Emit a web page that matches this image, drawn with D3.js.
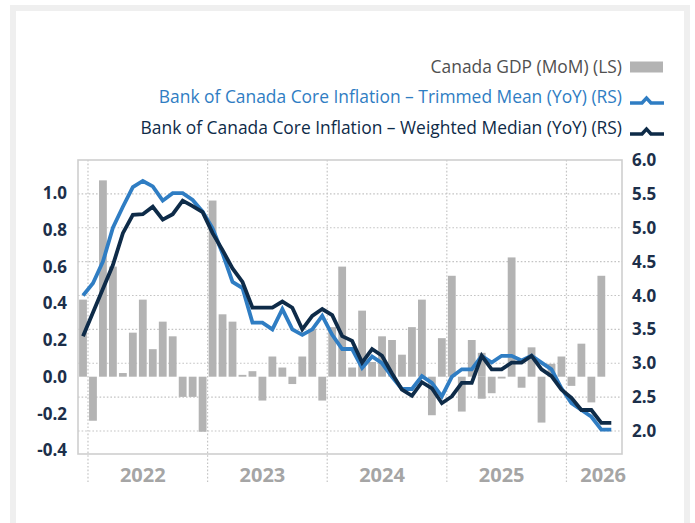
<!DOCTYPE html>
<html><head><meta charset="utf-8">
<script src="https://cdn.jsdelivr.net/npm/d3@7/dist/d3.min.js"></script>
<style>
html,body{margin:0;padding:0;background:#fff;}
svg{display:block;font-family:"Open Sans",sans-serif;}
</style></head><body>
<svg id="chart" width="695" height="523"></svg>
<script>
// ---------------- data ----------------
const months = [
 "2021-12",
 "2022-01","2022-02","2022-03","2022-04","2022-05","2022-06","2022-07","2022-08","2022-09","2022-10","2022-11","2022-12",
 "2023-01","2023-02","2023-03","2023-04","2023-05","2023-06","2023-07","2023-08","2023-09","2023-10","2023-11","2023-12",
 "2024-01","2024-02","2024-03","2024-04","2024-05","2024-06","2024-07","2024-08","2024-09","2024-10","2024-11","2024-12",
 "2025-01","2025-02","2025-03","2025-04","2025-05","2025-06","2025-07","2025-08","2025-09","2025-10","2025-11","2025-12",
 "2026-01","2026-02","2026-03","2026-04","2026-05"
];
// Canada GDP MoM (%), Dec 2021 - Apr 2026 (left scale)
const gdp = [
 0.42,
 -0.24, 1.07, 0.60, 0.02, 0.24, 0.42, 0.15, 0.30, 0.22, -0.11, -0.11, -0.30,
 0.96, 0.34, 0.30, 0.01, 0.03, -0.13, 0.11, 0.05, -0.04, 0.11, 0.26, -0.13,
 0.27, 0.60, 0.05, 0.36, 0.08, 0.22, 0.20, 0.12, 0.27, 0.42, -0.21, 0.21,
 0.55, -0.19, 0.20, 0.13, -0.09, -0.01, 0.65, -0.06, 0.16, -0.25, 0.07, 0.11,
 -0.05, 0.18, -0.14, 0.55
];
// second (negative) bar drawn in the same month
const gdpExtraMonths = ["2025-04"];
const gdpExtraValues = [-0.12];
// BoC core inflation, YoY (%), Dec 2021 - May 2026 (right scale)
const trimmedMean = [
 4.00,
 4.18, 4.50, 5.00, 5.31, 5.60, 5.69, 5.61, 5.40, 5.51, 5.51, 5.41, 5.24,
 4.99, 4.62, 4.20, 4.11, 3.60, 3.60, 3.50, 3.80, 3.50, 3.42, 3.50, 3.70,
 3.42, 3.21, 3.21, 2.93, 3.10, 3.00, 2.80, 2.62, 2.62, 2.81, 2.71, 2.51,
 2.80, 2.91, 2.91, 3.11, 3.01, 3.11, 3.11, 3.04, 3.11, 3.01, 2.91, 2.63,
 2.41, 2.31, 2.21, 2.02, 2.02
];
const weightedMedian = [
 3.40,
 3.75, 4.10, 4.45, 4.92, 5.19, 5.20, 5.31, 5.12, 5.20, 5.40, 5.32, 5.23,
 4.92, 4.67, 4.40, 4.20, 3.82, 3.82, 3.82, 3.91, 3.82, 3.50, 3.70, 3.80,
 3.71, 3.40, 3.33, 3.01, 3.21, 3.11, 2.85, 2.61, 2.52, 2.72, 2.63, 2.41,
 2.51, 2.71, 2.71, 3.11, 2.91, 2.91, 3.01, 3.01, 3.11, 2.91, 2.81, 2.61,
 2.49, 2.31, 2.31, 2.12, 2.12
];
const leftTicks = [-0.4, -0.2, 0.0, 0.2, 0.4, 0.6, 0.8, 1.0];
const rightTicks = [2.0, 2.5, 3.0, 3.5, 4.0, 4.5, 5.0, 5.5, 6.0];
const yearLabels = ["2022", "2023", "2024", "2025", "2026"];
const legendLabels = [
 "Canada GDP (MoM) (LS)",
 "Bank of Canada Core Inflation \u2013 Trimmed Mean (YoY) (RS)",
 "Bank of Canada Core Inflation \u2013 Weighted Median (YoY) (RS)"
];

// ---------------- layout ----------------
const C = {bar:"#b3b3b3", blue:"#2f7dc3", navy:"#0e2b48", grid:"#c4c4c4", frame:"#efefef",
           axisText:"#1c2f4a", year:"#a5a5a5", legendGray:"#505050"};
const P = {left:78, right:622, top:160, bottom:454};

const svg = d3.select("#chart");

// outer card frame (open at the bottom edge of the picture)
svg.append("rect").attr("x",13).attr("y",8).attr("width",674).attr("height",540)
  .attr("fill","none").attr("stroke",C.frame).attr("stroke-width",6);

const x = d3.scalePoint().domain(months).range([83, 611.3]);
const yL = d3.scaleLinear().domain([-0.4, 1.0]).range([450.1, 193.2]);
const yR = d3.scaleLinear().domain([2, 6]).range([431, 160]);

// horizontal gridlines (right axis)
svg.append("g").selectAll("line").data(rightTicks.filter(d => d < 6)).join("line")
  .attr("x1",P.left).attr("x2",P.right)
  .attr("y1",d => yR(d)).attr("y2",d => yR(d))
  .attr("stroke",C.grid).attr("stroke-width",1.2).attr("stroke-dasharray","1.6,2");

// vertical year-boundary gridlines
const boundaries = months.filter(m => m.endsWith("-01"));
const xb = m => { const i = months.indexOf(m); return (x(months[i-1]) + x(m)) / 2; };
svg.append("g").selectAll("line").data(boundaries).join("line")
  .attr("x1",xb).attr("x2",xb).attr("y1",P.top).attr("y2",482)
  .attr("stroke",C.grid).attr("stroke-width",1.2).attr("stroke-dasharray","1.6,2");

// bars
const bw = 7.8;
const barData = gdp.map((v,i) => ({m: months[i], v}))
  .concat(gdpExtraMonths.map((m,i) => ({m, v: gdpExtraValues[i]})));
svg.append("g").selectAll("rect").data(barData).join("rect")
  .attr("x",d => x(d.m) - bw/2).attr("width",bw)
  .attr("y",d => yL(Math.max(0,d.v))).attr("height",d => Math.abs(yL(d.v) - yL(0)))
  .attr("fill",C.bar);

// plot border
svg.append("rect").attr("x",P.left).attr("y",P.top).attr("width",P.right-P.left).attr("height",P.bottom-P.top)
  .attr("fill","none").attr("stroke","#cfcfcf").attr("stroke-width",1.6);

// lines
const line = d3.line().x((d,i) => x(months[i])).y(d => yR(d));
svg.append("path").datum(trimmedMean).attr("d",line).attr("fill","none")
  .attr("stroke",C.blue).attr("stroke-width",3.8).attr("stroke-linejoin","miter").attr("stroke-miterlimit",3);
svg.append("path").datum(weightedMedian).attr("d",line).attr("fill","none")
  .attr("stroke",C.navy).attr("stroke-width",3.8).attr("stroke-linejoin","miter").attr("stroke-miterlimit",3);

// left axis labels
svg.append("g").selectAll("text").data(leftTicks).join("text")
  .attr("x",67).attr("y",d => yL(d)).attr("dy","0.36em").attr("text-anchor","end")
  .attr("font-size",17).attr("font-weight",700).attr("fill",C.axisText)
  .text(d => d3.format(".1f")(d).replace("\u2212","-"));

// right axis labels
svg.append("g").selectAll("text").data(rightTicks).join("text")
  .attr("x",632).attr("y",d => yR(d)).attr("dy","0.36em").attr("text-anchor","start")
  .attr("font-size",17).attr("font-weight",700).attr("fill",C.axisText)
  .text(d => d3.format(".1f")(d));

// year labels
const yearG = svg.append("g");
yearLabels.forEach(y => {
  const t = yearG.append("text").attr("y",482).attr("text-anchor","middle")
    .attr("font-size",20).attr("font-weight",700).attr("fill",C.year).text(y);
  const mid = months.includes(y + "-06") ? x(y + "-06") : x(months[months.length-1]);
  const w = t.node().getComputedTextLength();
  t.attr("x", Math.min(mid, 626 - w/2));
});

// legend
const legendY = [67, 97, 128];
const legendColors = [C.legendGray, C.blue, C.navy];
const lg = svg.append("g");
legendLabels.forEach((lab,i) => {
  lg.append("text").attr("x",622).attr("y",legendY[i]).attr("dy","0.35em").attr("text-anchor","end")
    .attr("font-size",17.4).attr("font-weight",500).attr("fill",legendColors[i]).text(lab);
});
lg.append("rect").attr("x",630).attr("y",legendY[0]-5.5).attr("width",33).attr("height",11).attr("fill",C.bar);
[1,2].forEach(i => {
  const b = legendY[i] + 6;
  const c = i === 1 ? C.blue : C.navy;
  lg.append("path").attr("d",`M630,${b} L642,${b} L646.5,${b-5} L651,${b} L664,${b}`)
    .attr("fill","none").attr("stroke",c).attr("stroke-width",3.5);
});
</script>
</body></html>
